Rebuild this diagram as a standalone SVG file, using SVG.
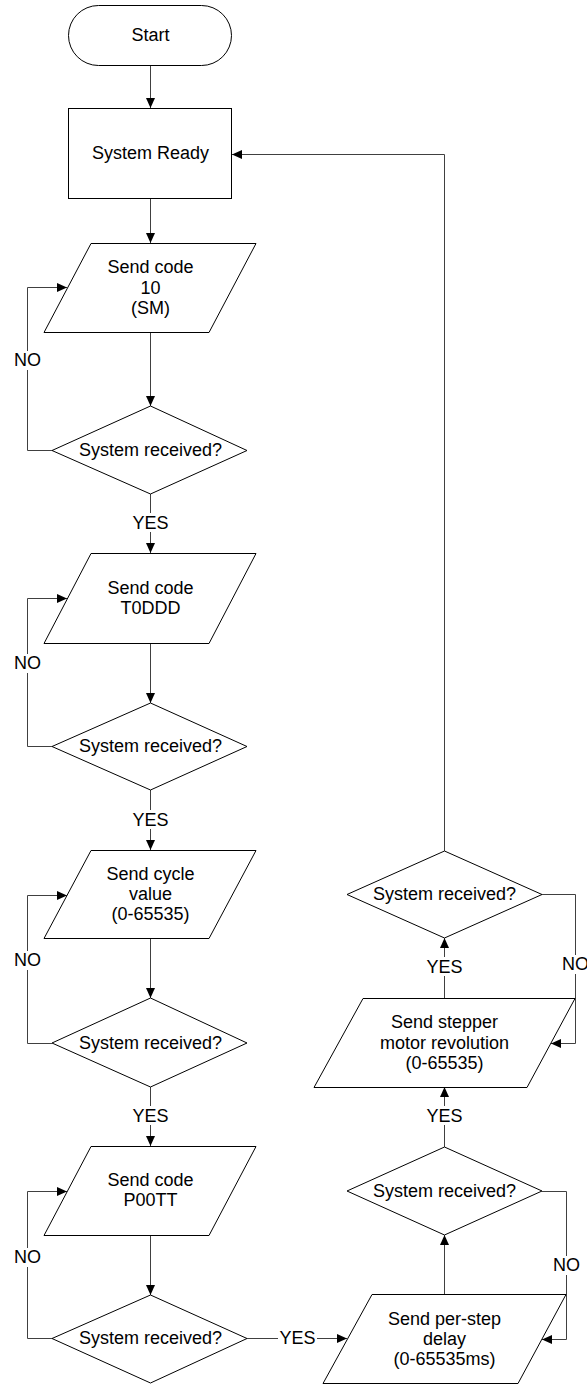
<svg xmlns="http://www.w3.org/2000/svg" width="587" height="1386" viewBox="0 0 587 1386">
<defs>
<marker id="arr" markerUnits="userSpaceOnUse" markerWidth="10" markerHeight="10" refX="10" refY="4.5" orient="auto">
<path d="M0,0 L10,4.5 L0,9 z" fill="#000"/>
</marker>
<style>
.shape{fill:#fff;stroke:#000;stroke-width:1}
.con{fill:none;stroke:#404040;stroke-width:1}
.arrow{marker-end:url(#arr)}
text{font-family:"Liberation Sans",Arial,sans-serif;font-size:18px;fill:#000;text-anchor:middle}
.lbg{fill:#fff;stroke:none}
</style>
</defs>
<rect width="587" height="1386" fill="#fff"/>

<g id="connectors">
<path class="con arrow" d="M150.5,65 V108"/>
<path class="con arrow" d="M150.5,198 V243"/>
<path class="con arrow" d="M150.5,332 V406"/>
<path class="con arrow" d="M150.5,494 V553"/>
<path class="con arrow" d="M150.5,643 V703"/>
<path class="con arrow" d="M150.5,790 V850"/>
<path class="con arrow" d="M150.5,938 V998"/>
<path class="con arrow" d="M150.5,1087 V1146"/>
<path class="con arrow" d="M150.5,1235 V1295"/>
<path class="con arrow" d="M52,450.5 H27.5 V287.5 H67"/>
<path class="con arrow" d="M52,746.5 H27.5 V598.5 H67"/>
<path class="con arrow" d="M52,1043.5 H27.5 V895.5 H67"/>
<path class="con arrow" d="M52,1338.5 H27.5 V1191.5 H67"/>
<path class="con arrow" d="M247,1338.5 H347"/>
<path class="con arrow" d="M444.5,1294 V1235"/>
<path class="con arrow" d="M444.5,1147 V1087"/>
<path class="con arrow" d="M542,1191.5 H566.5 V1339.5 H542"/>
<path class="con arrow" d="M444.5,998 V938"/>
<path class="con arrow" d="M542,894.5 H575.5 V1043.5 H551"/>
<path class="con arrow" d="M444.5,851 V154.5 H232"/>
<g id="labels">
<rect class="lbg" x="131" y="513" width="39" height="19"/><text x="150.5" y="529">YES</text>
<rect class="lbg" x="131" y="810" width="39" height="19"/><text x="150.5" y="826">YES</text>
<rect class="lbg" x="131" y="1106" width="39" height="19"/><text x="150.5" y="1122">YES</text>
<rect class="lbg" x="278" y="1328" width="39" height="19"/><text x="297.5" y="1344">YES</text>
<rect class="lbg" x="425" y="957" width="39" height="19"/><text x="444.5" y="973">YES</text>
<rect class="lbg" x="425" y="1106" width="39" height="19"/><text x="444.5" y="1122">YES</text>
<rect class="lbg" x="13" y="351" width="29" height="19"/><text x="27.5" y="366">NO</text>
<rect class="lbg" x="13" y="654" width="29" height="19"/><text x="27.5" y="669">NO</text>
<rect class="lbg" x="13" y="951" width="29" height="19"/><text x="27.5" y="966">NO</text>
<rect class="lbg" x="13" y="1248" width="29" height="19"/><text x="27.5" y="1263">NO</text>
<rect class="lbg" x="561" y="955" width="29" height="19"/><text x="575.5" y="970">NO</text>
<rect class="lbg" x="552" y="1256" width="29" height="19"/><text x="566.5" y="1271">NO</text>
</g>
</g>

<g id="start">
<rect class="shape" x="68.5" y="5.5" width="163" height="60" rx="30" ry="30"/>
<text x="150.5" y="41">Start</text>
</g>
<g id="ready">
<rect class="shape" x="68.5" y="108.5" width="163" height="90"/>
<text x="150.5" y="159">System Ready</text>
</g>

<g id="send10">
<polygon class="shape" points="91,243.5 256,243.5 209,332.5 44,332.5"/>
<text x="150.5" y="273">Send code</text>
<text x="150.5" y="294">10</text>
<text x="150.5" y="314">(SM)</text>
</g>
<g id="dec1">
<polygon class="shape" points="150.5,406 247,450.5 150.5,494 52,450.5"/>
<text x="150.5" y="456">System received?</text>
</g>

<g id="sendT0DDD">
<polygon class="shape" points="91,553.5 256,553.5 209,643.5 44,643.5"/>
<text x="150.5" y="594">Send code</text>
<text x="150.5" y="614">T0DDD</text>
</g>
<g id="dec2">
<polygon class="shape" points="150.5,703 247,746.5 150.5,790 52,746.5"/>
<text x="150.5" y="752">System received?</text>
</g>

<g id="sendCycle">
<polygon class="shape" points="91,850.5 256,850.5 209,938.5 44,938.5"/>
<text x="150.5" y="880">Send cycle</text>
<text x="150.5" y="900">value</text>
<text x="150.5" y="920">(0-65535)</text>
</g>
<g id="dec3">
<polygon class="shape" points="150.5,998 247,1043 150.5,1087 52,1043"/>
<text x="150.5" y="1049">System received?</text>
</g>

<g id="sendP00TT">
<polygon class="shape" points="91,1146.5 256,1146.5 209,1235.5 44,1235.5"/>
<text x="150.5" y="1186">Send code</text>
<text x="150.5" y="1206">P00TT</text>
</g>
<g id="dec4">
<polygon class="shape" points="150.5,1295 247,1338.5 150.5,1383 52,1338.5"/>
<text x="150.5" y="1344">System received?</text>
</g>

<g id="sendDelay">
<polygon class="shape" points="372,1294.5 566,1294.5 518,1383.5 323,1383.5"/>
<text x="444.5" y="1325">Send per-step</text>
<text x="444.5" y="1345">delay</text>
<text x="444.5" y="1365">(0-65535ms)</text>
</g>
<g id="dec5">
<polygon class="shape" points="444.5,1147 542,1191 444.5,1235 347,1191"/>
<text x="444.5" y="1197">System received?</text>
</g>

<g id="sendRev">
<polygon class="shape" points="363,998.5 575,998.5 527,1087.5 314,1087.5"/>
<text x="444.5" y="1028">Send stepper</text>
<text x="444.5" y="1049">motor revolution</text>
<text x="444.5" y="1069">(0-65535)</text>
</g>
<g id="dec6">
<polygon class="shape" points="444.5,851 542,894.5 444.5,938 347,894.5"/>
<text x="444.5" y="900">System received?</text>
</g>
</svg>
